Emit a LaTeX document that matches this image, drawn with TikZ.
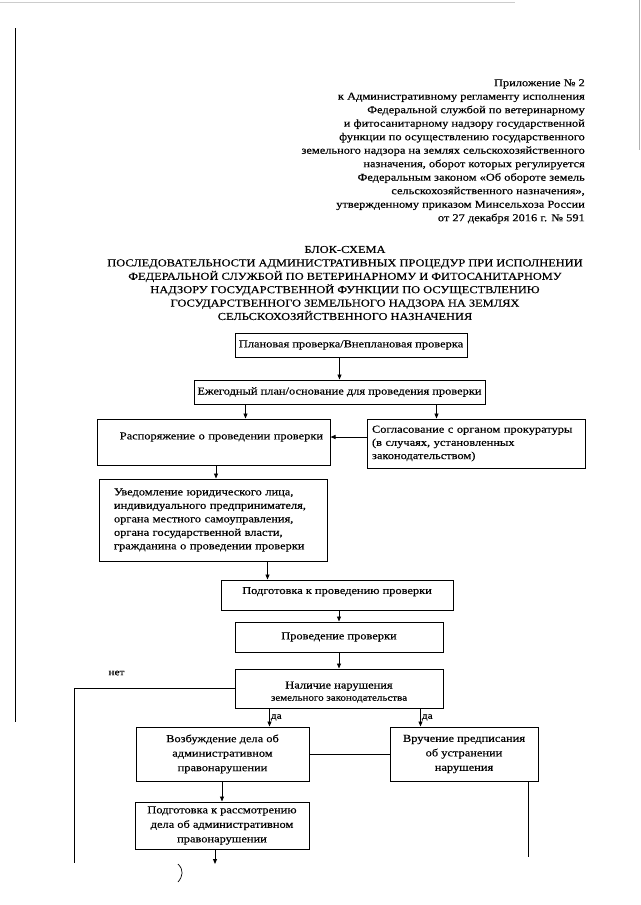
\documentclass[tikz,border=0pt]{standalone}
\usepackage{fontspec}
\setmainfont{Liberation Serif}[FakeStretch=1.17,FakeBold=0.4]
\usetikzlibrary{arrows.meta}

\tikzset{
    blok/.style={draw, line width=1pt, inner sep=0pt, align=center,
        font=\fontsize{10.6}{12.2}\selectfont},
    strelka/.style={line width=0.9pt, -{Triangle[length=5pt,width=4pt]}},
    linija/.style={line width=0.9pt},
    metka/.style={inner sep=1pt, font=\fontsize{9.6}{11}\selectfont},
}

\begin{document}
\begin{tikzpicture}[x=1pt, y=-1pt]
    \useasboundingbox (0, 0) rectangle (640, 905);
    % kraja skana
    \draw[gray!40, line width=0.5pt] (0, 2) -- (515, 2);
    \draw[line width=0.9pt] (15, 28) -- (15, 722);
    \draw[gray!60, line width=0.8pt] (639, 0) -- (639, 150);

    \node[anchor=north east, inner sep=0pt, align=right,
        font=\fontsize{10.6}{13.5}\selectfont] (prilozhenie) at (585, 79)
        {Приложение № 2\\
         к Административному регламенту исполнения\\
         Федеральной службой по ветеринарному\\
         и фитосанитарному надзору государственной\\
         функции по осуществлению государственного\\
         земельного надзора на землях сельскохозяйственного\\
         назначения, оборот которых регулируется\\
         Федеральным законом «Об обороте земель\\
         сельскохозяйственного назначения»,\\
         утвержденному приказом Минсельхоза России\\
         от 27 декабря 2016 г. № 591};

    \node[inner sep=0pt, align=center,
        font=\fontsize{10.6}{13.4}\selectfont] (zagolovok) at (345, 283)
        {БЛОК-СХЕМА\\
         ПОСЛЕДОВАТЕЛЬНОСТИ АДМИНИСТРАТИВНЫХ ПРОЦЕДУР ПРИ ИСПОЛНЕНИИ\\
         ФЕДЕРАЛЬНОЙ СЛУЖБОЙ ПО ВЕТЕРИНАРНОМУ И ФИТОСАНИТАРНОМУ\\
         НАДЗОРУ ГОСУДАРСТВЕННОЙ ФУНКЦИИ ПО ОСУЩЕСТВЛЕНИЮ\\
         ГОСУДАРСТВЕННОГО ЗЕМЕЛЬНОГО НАДЗОРА НА ЗЕМЛЯХ\\
         СЕЛЬСКОХОЗЯЙСТВЕННОГО НАЗНАЧЕНИЯ};

    % bloki
    \node[blok, minimum width=232, minimum height=24] (plan) at (351, 345)
        {Плановая проверка/Внеплановая проверка};
    \node[blok, minimum width=291, minimum height=24] (osnovanie) at (339.5, 392)
        {Ежегодный план/основание для проведения проверки};
    \node[blok, minimum width=233, minimum height=46, text width=219, align=right]
        (rasporyazhenie) at (213.5, 442)
        {Распоряжение о проведении проверки\\\mbox{}};
    \node[blok, minimum width=218, minimum height=49, text width=208, align=left,
        font=\fontsize{10.6}{13.2}\selectfont] (soglasovanie) at (476, 443.5)
        {Согласование с органом прокуратуры\\
         (в случаях, установленных\\
         законодательством)};
    \node[blok, minimum width=228, minimum height=82, text width=198, align=left,
        font=\fontsize{10.6}{13.5}\selectfont] (uvedomlenie) at (213, 520)
        {Уведомление юридического лица,\\
         индивидуального предпринимателя,\\
         органа местного самоуправления,\\
         органа государственной власти,\\
         гражданина о проведении проверки};
    \node[blok, minimum width=232, minimum height=30] (podgotovka) at (337, 595)
        {Подготовка к проведению проверки\rule[-9pt]{0pt}{0pt}};
    \node[blok, minimum width=208, minimum height=30] (provedenie) at (339, 637)
        {Проведение проверки};
    \node[blok, minimum width=208, minimum height=39] (nalichie) at (339, 688.5)
        {\rule{0pt}{14pt}Наличие нарушения\\
         {\fontsize{9.4}{11}\selectfont земельного законодательства}};
    \node[blok, minimum width=173, minimum height=54,
        font=\fontsize{10.6}{14.5}\selectfont] (vozbuzhdenie) at (222.5, 754)
        {Возбуждение дела об\\административном\\правонарушении};
    \node[blok, minimum width=148, minimum height=54,
        font=\fontsize{10.6}{14.5}\selectfont] (vruchenie) at (464, 754)
        {Вручение предписания\\об устранении\\нарушения};
    \node[blok, minimum width=174, minimum height=47,
        font=\fontsize{10.6}{14.5}\selectfont] (rassmotrenie) at (222, 825.5)
        {Подготовка к рассмотрению\\дела об административном\\правонарушении};

    % strelki
    \draw[strelka] (plan.south -| osnovanie.north) -- (osnovanie.north);
    \draw[strelka] ([xshift=52]osnovanie.south west)
        -- ([xshift=52]osnovanie.south west |- rasporyazhenie.north);
    \draw[strelka] ([xshift=-49]osnovanie.south east)
        -- ([xshift=-49]osnovanie.south east |- soglasovanie.north);
    \draw[strelka] ([yshift=6.5]soglasovanie.west)
        -- ([yshift=6.5]soglasovanie.west -| rasporyazhenie.east);
    \draw[strelka] ([xshift=2.5]rasporyazhenie.south)
        -- ([xshift=2.5]rasporyazhenie.south |- uvedomlenie.north);
    \draw[strelka] ([xshift=47]podgotovka.north west |- uvedomlenie.south)
        -- ([xshift=47]podgotovka.north west);
    \draw[strelka] (podgotovka.south -| provedenie.north) -- (provedenie.north);
    \draw[strelka] (provedenie) -- (nalichie);

    \coordinate (net) at (74, 863);
    \draw[linija] (nalichie.west) -| (net);
    \node[metka] (netmetka) at (116.5, 673) {нет};

    \draw[strelka] ([xshift=35]nalichie.south west)
        -- ([xshift=35]nalichie.south west |- vozbuzhdenie.north)
        node[metka, midway, right] (da1) {да};
    \draw[strelka] ([xshift=-23]nalichie.south east)
        -- ([xshift=-23]nalichie.south east |- vruchenie.north)
        node[metka, midway, right] (da2) {да};
    \draw[linija] (vozbuzhdenie.east) -- (vruchenie.west);

    \coordinate (vruchkonec) at (528, 857);
    \draw[linija] (vruchenie.south -| vruchkonec) -- (vruchkonec);
    \draw[strelka] (vozbuzhdenie.south -| rassmotrenie.north) -- (rassmotrenie.north);
    \coordinate (dalee) at (215, 864);
    \draw[strelka] (rassmotrenie.south -| dalee) -- (dalee);

    % pometka karandashom
    \draw[line width=0.7pt] (178, 864) .. controls (184, 870) and (183, 876) .. (178, 882);
\end{tikzpicture}
\end{document}
